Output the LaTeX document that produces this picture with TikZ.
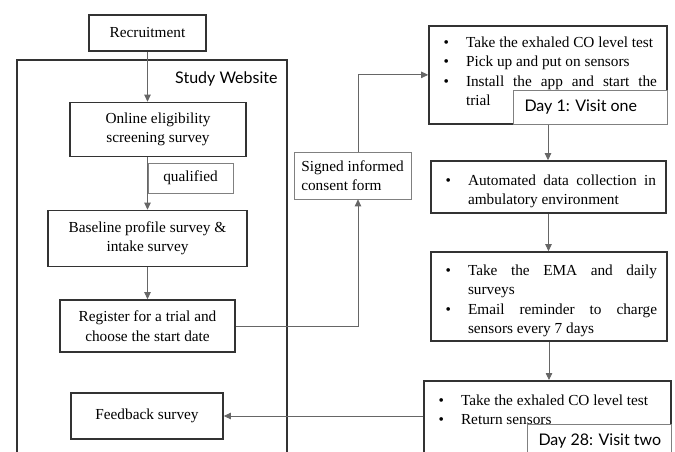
\documentclass[tikz,border=0pt]{standalone}
\usepackage{fontspec}
\setmainfont{Liberation Serif}
\newfontfamily\gillfont{Lato}
\usepackage{enumitem}
\newlist{steplist}{itemize}{1}
\setlist[steplist]{label=\textbullet, leftmargin=27pt, labelsep=17pt, nosep}
\usetikzlibrary{arrows.meta}

\begin{document}
\begin{tikzpicture}[x=1pt, y=-1pt,
    box/.style={draw=black!80, line width=1.7pt, align=center, font=\fontsize{15.3}{19.5}\selectfont},
    listbox/.style={box, text width=#1, align=justify, inner xsep=10pt},
    visitbox/.style={draw=black!80, line width=1.7pt, inner xsep=10pt, anchor=north, font=\fontsize{15.3}{19.3}\selectfont},
    thinbox/.style={draw=black!50, line width=.7pt, fill=white, font=\fontsize{15.3}{19.5}\selectfont},
    daybox/.style={thinbox, inner xsep=11pt, minimum height=34, font=\gillfont\fontsize{16}{19}\selectfont},
    link/.style={draw=black!60, line width=.8pt},
    arrow/.style={link, -{Triangle[length=7pt, width=6.5pt]}}]
\useasboundingbox (0,0) rectangle (675,451);
\clip (0,0) rectangle (675,451);

% study website column
\node[box, minimum width=270, minimum height=420] (website) at (152,270) {};
\node[anchor=base east, font=\gillfont\fontsize{16}{19}\selectfont] (sitelabel) at (281,83) {Study Website};
\node[box, minimum width=117, minimum height=36] (recruit) at (147.5,33) {Recruitment};
\node[box, minimum width=176, minimum height=54] (online) at (158,129.5) {Online eligibility\\screening survey};
\node[thinbox, minimum width=85, minimum height=30] (qualified) at (190.5,178) {qualified};
\node[box, minimum width=199, minimum height=56] (baseline) at (147.5,238.5) {Baseline profile survey \&\\intake survey};
\node[box, minimum width=175, minimum height=52] (register) at (147.5,326) {Register for a trial and\\choose the start date};
\node[box, minimum width=152, minimum height=46] (feedback) at (147,416) {Feedback survey};
\node[thinbox, minimum width=117, minimum height=47, align=left] (consent) at (352.5,175.5) {Signed informed\\consent form};

% visits
\node[visitbox, inner ysep=11pt] (visit1) at (548,25) {\begin{minipage}[t][76pt][t]{218pt}
    \begin{steplist}
      \item Take the exhaled CO level test
      \item Pick up and put on sensors
      \item Install the app and start the\linebreak trial
    \end{steplist}
  \end{minipage}};
\node[daybox, anchor=south east] (day1) at (visit1.south east) {\makebox[132pt][l]{Day 1: Visit one}};
\node[listbox=215, minimum height=52] (ambulatory) at (548.5,187) {\begin{steplist}
    \item Automated data collection in\linebreak ambulatory environment
  \end{steplist}};
\node[listbox=216, minimum height=89] (ema) at (549,296.5) {\begin{steplist}
    \item Take the EMA and daily\linebreak surveys
    \item Email reminder to charge\linebreak sensors every 7 days
  \end{steplist}};
\node[visitbox, inner ysep=14pt] (visit2) at (547.5,380) {\begin{minipage}[t][100pt][t]{227pt}
    \begin{steplist}
      \item Take the exhaled CO level test
      \item Return sensors
    \end{steplist}
  \end{minipage}};
\node[daybox, anchor=north east] (day28) at ([yshift=-44pt]visit2.north east) {\makebox[122pt][l]{Day 28: Visit two}};

% connectors
\draw[arrow] (recruit.south) -- (recruit.south |- online.north);
\draw[arrow] (recruit.south |- online.south) -- (recruit.south |- baseline.north);
\draw[arrow] (baseline.south) -- (register.north);
\coordinate (jog) at (358,0);
\draw[arrow] (register.east) -| (jog |- consent.south);
\draw[arrow] (jog |- consent.north) |- (visit1.west);
\draw[arrow] (visit1.south) -- (visit1.south |- ambulatory.north);
\draw[arrow] (ambulatory.south) -- (ambulatory.south |- ema.north);
\draw[arrow] (ema.south) -- (ema.south |- visit2.north);
\draw[arrow] (feedback.east -| visit2.west) -- (feedback.east);
\end{tikzpicture}
\end{document}
